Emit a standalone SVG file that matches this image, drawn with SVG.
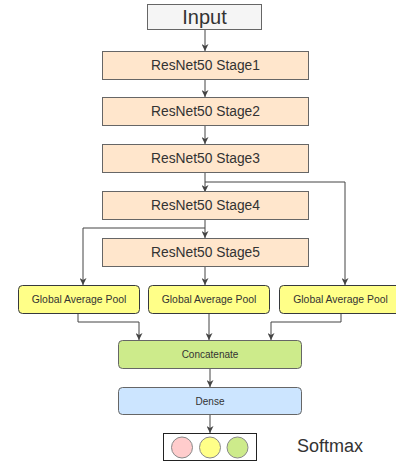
<svg xmlns="http://www.w3.org/2000/svg" width="396" height="463" viewBox="0 0 396 463">
<style>
text{font-family:"Liberation Sans",Arial,sans-serif;fill:#333;text-anchor:middle;dominant-baseline:central}
.stage{fill:#ffe6cc;stroke:#666;stroke-width:1}
.gap{fill:#ffff88;stroke:#36393d;stroke-width:1}
.edge{fill:none;stroke:#444;stroke-width:1}
.s13{font-size:13.8px}
.s10{font-size:10.4px}
.s9{font-size:10px}
</style>
<defs>
<marker id="arr" viewBox="0 0 10 10" refX="10" refY="5" markerWidth="7" markerHeight="7" markerUnits="userSpaceOnUse" orient="auto">
<path d="M0,0 L10,5 L0,10 L3,5 Z" fill="#444"/>
</marker>
</defs>
<rect width="396" height="463" fill="#fff"/>
<g id="connectors">
<path class="edge" d="M205,29 V51" marker-end="url(#arr)"/>
<path class="edge" d="M205,79 V97" marker-end="url(#arr)"/>
<path class="edge" d="M205,126 V144" marker-end="url(#arr)"/>
<path class="edge" d="M205,173 V192" marker-end="url(#arr)"/>
<path class="edge" d="M205,182 H345 V285" marker-end="url(#arr)"/>
<path class="edge" d="M205,219 V238" marker-end="url(#arr)"/>
<path class="edge" d="M205,228 H83 V285" marker-end="url(#arr)"/>
<path class="edge" d="M205,266 V285" marker-end="url(#arr)"/>
<path class="edge" d="M78,313 V322 H139 V340" marker-end="url(#arr)"/>
<path class="edge" d="M209,313 V340" marker-end="url(#arr)"/>
<path class="edge" d="M341,313 V322 H271 V340" marker-end="url(#arr)"/>
<path class="edge" d="M210,368 V387" marker-end="url(#arr)"/>
<path class="edge" d="M210,414 V433" marker-end="url(#arr)"/>
</g>
<g id="input">
<rect x="147.5" y="4.5" width="114" height="25" fill="#f5f5f5" stroke="#666"/>
<text x="204.5" y="17" style="font-size:20px">Input</text>
</g>
<g id="stage1">
<rect class="stage" x="102.5" y="51.5" width="206" height="28"/>
<text class="s13" x="205.5" y="65.5">ResNet50 Stage1</text>
</g>
<g id="stage2">
<rect class="stage" x="102.5" y="97.5" width="206" height="28"/>
<text class="s13" x="205.5" y="111.5">ResNet50 Stage2</text>
</g>
<g id="stage3">
<rect class="stage" x="102.5" y="144.5" width="206" height="28"/>
<text class="s13" x="205.5" y="158.5">ResNet50 Stage3</text>
</g>
<g id="stage4">
<rect class="stage" x="102.5" y="191.5" width="206" height="28"/>
<text class="s13" x="205.5" y="205.5">ResNet50 Stage4</text>
</g>
<g id="stage5">
<rect class="stage" x="102.5" y="238.5" width="206" height="28"/>
<text class="s13" x="205.5" y="252.5">ResNet50 Stage5</text>
</g>
<g id="gap1">
<rect class="gap" x="18.5" y="285.5" width="121" height="28" rx="4"/>
<text class="s10" x="79" y="299.5">Global Average Pool</text>
</g>
<g id="gap2">
<rect class="gap" x="148.5" y="285.5" width="121" height="28" rx="4"/>
<text class="s10" x="209" y="299.5">Global Average Pool</text>
</g>
<g id="gap3">
<rect class="gap" x="279.5" y="285.5" width="121" height="28" rx="4"/>
<text class="s10" x="340.5" y="299.5">Global Average Pool</text>
</g>
<g id="concat">
<rect x="118.5" y="340.5" width="183" height="28" rx="4" fill="#cdeb8b" stroke="#666"/>
<text class="s9" x="210" y="354.5">Concatenate</text>
</g>
<g id="dense">
<rect x="118.5" y="387.5" width="183" height="27" rx="4" fill="#cce5ff" stroke="#666"/>
<text class="s9" x="210" y="401">Dense</text>
</g>
<g id="softmax">
<rect x="163.5" y="433.5" width="93" height="27" fill="#fff" stroke="#222"/>
<circle cx="182" cy="447.5" r="10.5" fill="#ffcccc" stroke="#888"/>
<circle cx="210" cy="447.5" r="10.5" fill="#ffff88" stroke="#888"/>
<circle cx="237.5" cy="447.5" r="10.5" fill="#cdeb8b" stroke="#888"/>
<text x="330" y="446" style="font-size:18px">Softmax</text>
</g>
</svg>
